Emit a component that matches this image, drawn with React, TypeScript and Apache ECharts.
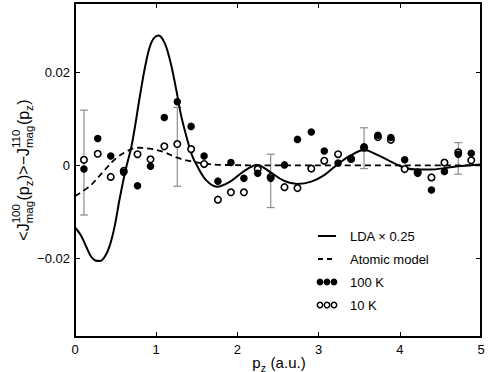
import React, { useEffect, useRef } from "react";
import * as echarts from "echarts";

const FONT = "'Liberation Sans', Arial, Helvetica, sans-serif";

// Measured momentum points (a.u.)
const pzPoints = [0.11, 0.28, 0.44, 0.60, 0.77, 0.93, 1.10, 1.26, 1.43, 1.59, 1.76, 1.92, 2.08, 2.25, 2.41, 2.58, 2.74, 2.91, 3.07, 3.24, 3.40, 3.56, 3.73, 3.89, 4.06, 4.22, 4.39, 4.55, 4.72, 4.88];
const k100 = [-0.0008, 0.0058, 0.0020, -0.0015, -0.0044, -0.0002, 0.0103, 0.0137, 0.0084, 0.0020, -0.0034, 0.0006, -0.0028, -0.0017, -0.0028, 0.0001, 0.0056, 0.0072, 0.0031, 0.0005, 0.0013, 0.0040, 0.0065, 0.0060, 0.0012, -0.0017, -0.0053, -0.0013, 0.0024, 0.0026];
const k10 = [0.0012, 0.0025, -0.0025, -0.0012, 0.0024, 0.0013, 0.0041, 0.0046, 0.0035, 0.0003, -0.0074, -0.0058, -0.0058, -0.0008, -0.0025, -0.0047, -0.0049, -0.0007, 0.0010, 0.0024, 0.0014, 0.0038, 0.0061, 0.0055, -0.0008, -0.0015, -0.0026, 0.0006, 0.0028, 0.0011];

// Error bars
const errX = [0.11, 1.26, 2.41, 3.56, 4.72];
const errLow = [-0.0107, -0.0045, -0.0091, -0.0007, -0.0019];
const errHigh = [0.0119, 0.0125, 0.0024, 0.0081, 0.0049];

// LDA x 0.25 curve
const ldaX = [0, 0.07, 0.14, 0.2, 0.25, 0.31, 0.37, 0.43, 0.49, 0.55, 0.62, 0.70, 0.80, 0.86, 0.92, 0.97, 1.03, 1.08, 1.13, 1.19, 1.25, 1.31, 1.38, 1.44, 1.50, 1.62, 1.75, 1.91, 2.07, 2.24, 2.40, 2.57, 2.74, 2.91, 3.07, 3.24, 3.40, 3.56, 3.73, 3.89, 4.06, 4.22, 4.38, 4.55, 4.71, 5.0];
const ldaY = [-0.0134, -0.0150, -0.0176, -0.0197, -0.0205, -0.0206, -0.0196, -0.0172, -0.0130, -0.0072, -0.0012, 0.0045, 0.0150, 0.0210, 0.0255, 0.0274, 0.0280, 0.0272, 0.0252, 0.0212, 0.0160, 0.0105, 0.0057, 0.0022, 0.0000, -0.0033, -0.0046, -0.0035, -0.0014, 0.0001, -0.0014, -0.0033, -0.0040, -0.0035, -0.0021, 0.0003, 0.0022, 0.0033, 0.0022, 0.0008, -0.0005, -0.0009, -0.0009, -0.0006, -0.0002, 0.0002];

// Atomic model curve
const atomX = [0, 0.18, 0.35, 0.51, 0.68, 0.76, 0.92, 1.09, 1.25, 1.42, 1.58, 1.8, 2.5, 3.5, 4.5, 5];
const atomY = [-0.0066, -0.0045, -0.0013, 0.0016, 0.0034, 0.0038, 0.0036, 0.0029, 0.0017, 0.0009, 0.0004, 0.0001, 0, 0, 0, 0];

const xTicks = [0, 1, 2, 3, 4, 5];
const yTicks = [-0.02, 0, 0.02];
const legendLabels = ["LDA \u00d7 0.25", "Atomic model", "100 K", "10 K"];

let ctx: CanvasRenderingContext2D | null = null;
function measure(text: string, size: number): number {
  if (!ctx) ctx = document.createElement("canvas").getContext("2d");
  if (!ctx) return text.length * size * 0.55;
  ctx.font = `${size}px 'Liberation Sans', Arial, sans-serif`;
  return ctx.measureText(text).width;
}

type Piece = { m?: string; sup?: string; sub?: string };

function txt(text: string, x: number, y: number, size: number) {
  return { type: "text", x, y, style: { text, fontSize: size, fontFamily: FONT, fill: "#000", align: "left", verticalAlign: "middle", textAlign: "left", textVerticalAlign: "middle" } };
}

function buildMath(pieces: Piece[], main: number, small: number, supOff: number, subOff: number) {
  const els: any[] = [];
  let x = 0;
  for (const p of pieces) {
    if (p.m) {
      els.push(txt(p.m, x, 0, main));
      x += measure(p.m, main);
    } else {
      let w = 0;
      if (p.sup) {
        els.push(txt(p.sup, x, supOff, small));
        w = Math.max(w, measure(p.sup, small));
      }
      if (p.sub) {
        els.push(txt(p.sub, x, subOff, small));
        w = Math.max(w, measure(p.sub, small));
      }
      x += w + 0.5;
    }
  }
  for (const e of els) e.x -= x / 2;
  return { els, width: x };
}

export default function App() {
  const ref = useRef<HTMLDivElement>(null);
  useEffect(() => {
    if (!ref.current) return;
    const chart = echarts.init(ref.current, undefined, { renderer: "svg" });

    const yLabel = buildMath(
      [
        { m: "<J" }, { sup: "100", sub: "mag" }, { m: "(p" }, { sub: "z" }, { m: ")>\u2212J" },
        { sup: "110", sub: "mag" }, { m: "(p" }, { sub: "z" }, { m: ")" },
      ],
      16, 11.5, -7.5, 6
    );
    const xLabel = buildMath([{ m: "p" }, { sub: "z" }, { m: " (a.u.)" }], 15, 10.5, -6, 5.5);

    const legendY = [236, 259, 282, 305];
    const legendGraphics: any[] = [];
    legendGraphics.push({ type: "line", shape: { x1: 318, y1: legendY[0], x2: 336, y2: legendY[0] }, style: { stroke: "#000", lineWidth: 2 } });
    legendGraphics.push({ type: "line", shape: { x1: 318, y1: legendY[1], x2: 336, y2: legendY[1] }, style: { stroke: "#000", lineWidth: 2, lineDash: [5, 4] } });
    [320, 327, 334].forEach((cx) => {
      legendGraphics.push({ type: "circle", shape: { cx, cy: legendY[2], r: 3.4 }, style: { fill: "#000" } });
      legendGraphics.push({ type: "circle", shape: { cx, cy: legendY[3], r: 2.7 }, style: { fill: "#fff", stroke: "#000", lineWidth: 1.5 } });
    });
    legendLabels.forEach((t, i) => legendGraphics.push(txt(t, 350, legendY[i], 13)));

    const axisCommon = {
      axisLine: { show: true, onZero: false, lineStyle: { color: "#000", width: 2 } },
      splitLine: { show: false },
    };

    chart.setOption({
      animation: false,
      backgroundColor: "#fff",
      grid: { left: 75, right: 10, top: 3, bottom: 35, containLabel: false },
      xAxis: [
        {
          type: "value", min: 0, max: 5, interval: 1, position: "bottom", ...axisCommon,
          axisTick: { show: true, inside: true, length: 5, lineStyle: { color: "#000", width: 1 } },
          axisLabel: { show: true, fontSize: 13, fontFamily: FONT, color: "#000", margin: 6, customValues: xTicks },
        },
        {
          type: "value", min: 0, max: 5, interval: 1, position: "top", ...axisCommon,
          axisTick: { show: true, inside: true, length: 5, lineStyle: { color: "#000", width: 1 } },
          axisLabel: { show: false },
        },
      ],
      yAxis: [
        {
          type: "value", min: -0.037, max: 0.035, position: "left", ...axisCommon,
          axisTick: { show: true, inside: true, length: 5, customValues: yTicks, lineStyle: { color: "#000", width: 1 } },
          axisLabel: {
            show: true, fontSize: 13, fontFamily: FONT, color: "#000", margin: 5, customValues: yTicks,
            formatter: (v: number) => (Math.abs(v) < 1e-9 ? "0" : (v < 0 ? "\u2212" : "") + Math.abs(v).toFixed(2)),
          },
        },
        {
          type: "value", min: -0.037, max: 0.035, position: "right", ...axisCommon,
          axisTick: { show: true, inside: true, length: 5, customValues: yTicks, lineStyle: { color: "#000", width: 1 } },
          axisLabel: { show: false },
        },
      ],
      series: [
        {
          type: "custom",
          name: "errors",
          data: errX.map((x, i) => [x, errLow[i], errHigh[i]]),
          renderItem: (params: any, api: any) => {
            const lo = api.coord([api.value(0), api.value(1)]);
            const hi = api.coord([api.value(0), api.value(2)]);
            const style = { stroke: "#8c8c8c", lineWidth: 1.2 };
            return {
              type: "group",
              children: [
                { type: "line", shape: { x1: lo[0], y1: lo[1], x2: hi[0], y2: hi[1] }, style },
                { type: "line", shape: { x1: lo[0] - 4, y1: lo[1], x2: lo[0] + 4, y2: lo[1] }, style },
                { type: "line", shape: { x1: hi[0] - 4, y1: hi[1], x2: hi[0] + 4, y2: hi[1] }, style },
              ],
            };
          },
          z: 1,
        },
        {
          type: "line", name: legendLabels[0], data: ldaX.map((x, i) => [x, ldaY[i]]),
          smooth: 0.35, showSymbol: false, lineStyle: { color: "#000", width: 2 }, z: 2,
        },
        {
          type: "line", name: legendLabels[1], data: atomX.map((x, i) => [x, atomY[i]]),
          smooth: 0.35, showSymbol: false, lineStyle: { color: "#000", width: 1.8, type: [6, 4] }, z: 2,
        },
        {
          type: "scatter", name: legendLabels[3], data: pzPoints.map((x, i) => [x, k10[i]]),
          symbol: "circle", symbolSize: 6.5, itemStyle: { color: "#fff", borderColor: "#000", borderWidth: 1.6, opacity: 1 }, z: 3,
        },
        {
          type: "scatter", name: legendLabels[2], data: pzPoints.map((x, i) => [x, k100[i]]),
          symbol: "circle", symbolSize: 7.5, itemStyle: { color: "#000", opacity: 1 }, z: 4,
        },
      ],
      graphic: [
        { type: "group", x: 23, y: 170, rotation: Math.PI / 2, children: yLabel.els },
        { type: "group", x: 279, y: 362, children: xLabel.els },
        ...legendGraphics,
      ],
    });
    return () => chart.dispose();
  }, []);
  return <div ref={ref} style={{ position: "fixed", left: 0, top: 0, width: 491, height: 372 }} />;
}
